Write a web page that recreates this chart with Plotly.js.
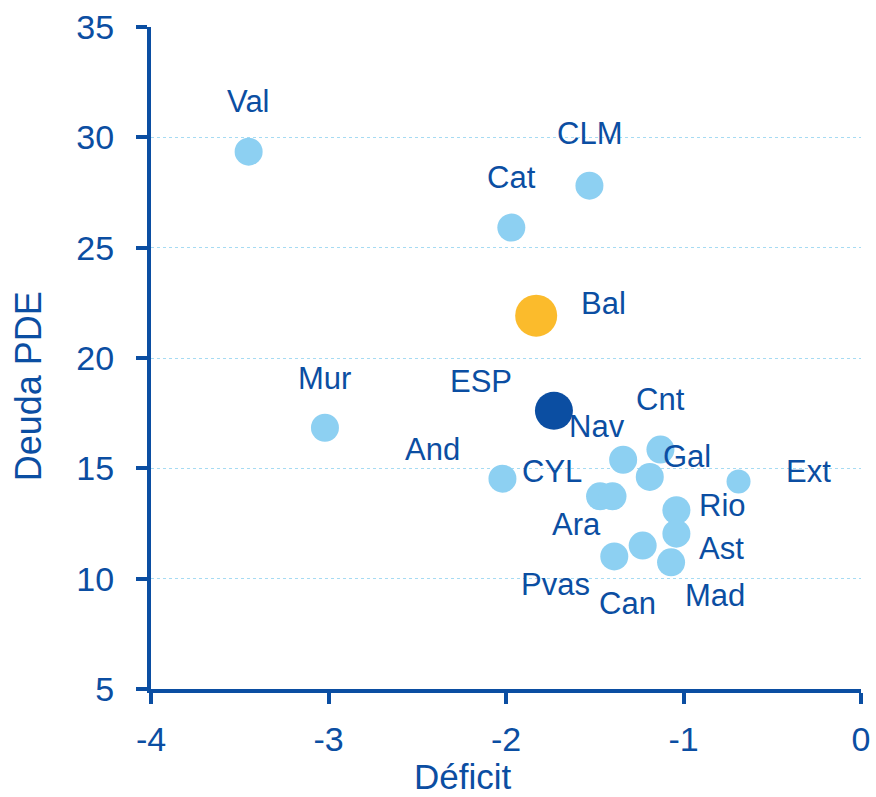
<!DOCTYPE html>
<html>
<head>
<meta charset="utf-8">
<script src="https://cdn.plot.ly/plotly-3.0.1.min.js"></script>
<style>html,body{margin:0;padding:0;background:#fff;}#chart{width:876px;height:797px;}</style>
</head>
<body>
<div id="chart"></div>
<script>
// ---- data ----
var regions = ["Val","CLM","Cat","Bal","ESP","Mur","Cnt","Nav","Gal","And","Ext","CYL","Ara","Rio","Ast","Can","Pvas","Mad"];
var deficit = [-3.45,-1.53,-1.97,-1.83,-1.73,-3.02,-1.13,-1.34,-1.19,-2.02,-0.69,-1.47,-1.40,-1.04,-1.04,-1.23,-1.39,-1.07];
var debt    = [29.35,27.81,25.91,21.92,17.61,16.84,15.85,15.39,14.61,14.53,14.40,13.73,13.73,13.10,12.04,11.50,11.01,10.74];
var xTicks = [-4,-3,-2,-1,0];
var yTicks = [5,10,15,20,25,30,35];
var xTitle = "Déficit";
var yTitle = "Deuda PDE";

// ---- styles ----
var DARK = "#0b4ea2", LIGHT = "#8dd0f2", ORANGE = "#fbbb2c", GRID = "#a6dbf3";
var FONT = "Liberation Sans, Arial, sans-serif";
// label offsets in pixels (dx, dy with dy positive downward)
var labelOffsets = {
  Val:[0,-50], CLM:[0,-52], Cat:[0,-50], Bal:[67,-12], ESP:[-73,-29], Mur:[0,-49],
  Cnt:[0,-50], Nav:[-26,-33], Gal:[37,-20], And:[-70,-29], Ext:[70,-10], CYL:[-48,-25],
  Ara:[-36,28], Rio:[46,-5], Ast:[45,15], Can:[-15,58], Pvas:[-59,28], Mad:[44,33]
};
var special = {ESP:{color:DARK,size:38}, Bal:{color:ORANGE,size:42}, Ext:{color:LIGHT,size:24}};

var colors = regions.map(function(r){return special[r]?special[r].color:LIGHT;});
var sizes = regions.map(function(r){return special[r]?special[r].size:28;});

var trace = {
  type:"scatter", mode:"markers", x:deficit, y:debt, text:regions,
  marker:{color:colors, size:sizes, line:{width:0}, opacity:1},
  hoverinfo:"text+x+y", showlegend:false, cliponaxis:false
};

var annotations = regions.map(function(r,i){
  var o = labelOffsets[r];
  return {x:deficit[i], y:debt[i], xref:"x", yref:"y", text:r, showarrow:false,
    xanchor:"center", yanchor:"middle", xshift:o[0], yshift:-o[1],
    font:{family:FONT, size:31, color:DARK}};
});
annotations.push({xref:"paper", yref:"paper", x:0.439, y:-0.132, text:xTitle, showarrow:false,
  xanchor:"center", yanchor:"middle", font:{family:FONT, size:35, color:DARK}});
annotations.push({xref:"paper", yref:"paper", x:-0.172, y:0.457, text:yTitle, showarrow:false, textangle:-90,
  xanchor:"center", yanchor:"middle", font:{family:FONT, size:36, color:DARK}});

var layout = {
  width:876, height:797,
  margin:{l:151, r:15, t:27, b:108},
  paper_bgcolor:"#fff", plot_bgcolor:"#fff",
  font:{family:FONT, color:DARK},
  xaxis:{range:[-4,0], tickvals:xTicks, ticktext:xTicks.map(String), showgrid:false, zeroline:false,
    showline:true, linecolor:DARK, linewidth:4, ticks:"outside", ticklen:11, tickwidth:4, tickcolor:DARK,
    tickfont:{family:FONT, size:34, color:DARK}, ticklabelstandoff:6, fixedrange:true},
  yaxis:{range:[5,35], tickvals:yTicks, ticktext:yTicks.map(String), showgrid:true, gridcolor:GRID, gridwidth:1,
    griddash:"dot", zeroline:false,
    showline:true, linecolor:DARK, linewidth:4, ticks:"outside", ticklen:11, tickwidth:4, tickcolor:DARK,
    tickfont:{family:FONT, size:34, color:DARK}, ticklabelstandoff:15, fixedrange:true},
  annotations:annotations
};

Plotly.newPlot("chart", [trace], layout, {displayModeBar:false, staticPlot:true});
</script>
</body>
</html>
